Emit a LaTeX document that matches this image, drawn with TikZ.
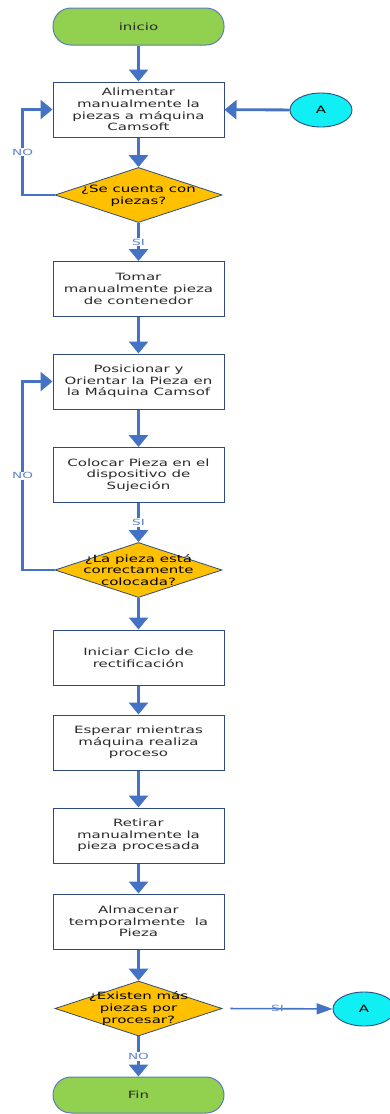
\documentclass[tikz,border=0pt]{standalone}
\usepackage{fontspec}
\usetikzlibrary{arrows.meta,shapes.geometric}
\newfontfamily\bfnt[FakeStretch=1.5]{DejaVu Sans}
\newfontfamily\lfnt[FakeStretch=1.6]{DejaVu Sans}
\definecolor{arrowblue}{HTML}{4472C4}
\definecolor{boxborder}{HTML}{2F4A7E}
\definecolor{termborder}{HTML}{5A7DB8}
\definecolor{termgreen}{HTML}{92D050}
\definecolor{decyellow}{HTML}{FFC000}
\definecolor{conncyan}{HTML}{10F0F4}
\definecolor{textgray}{HTML}{2B2B2B}
\definecolor{labblue}{HTML}{5F85CC}
\begin{document}
\begin{tikzpicture}[x=1pt,y=-1pt,
  txt/.style={font=\bfnt\fontsize{10}{11.7}\selectfont},
  proc/.style={txt, draw=boxborder, line width=1pt, fill=white, minimum width=171pt, minimum height=55pt, inner sep=0pt, align=center, text=textgray},
  term/.style={proc, rounded corners=18pt, fill=termgreen, draw=termborder, minimum height=37pt},
  dec/.style={diamond, draw=boxborder, fill=decyellow, minimum width=167pt, minimum height=55pt, inner sep=0pt, line width=0.8pt},
  dectext/.style={txt, align=center, text=black, inner sep=0pt},
  conn/.style={ellipse, txt, draw=boxborder, fill=conncyan, minimum width=62pt, minimum height=34pt, line width=0.9pt, inner sep=0pt},
  flow/.style={draw=arrowblue, line width=2.8pt, -{Triangle[width=19pt,length=12pt]}},
  thinflow/.style={draw=arrowblue, line width=1.6pt, -{Triangle[width=11pt,length=16pt]}},
  lab/.style={fill=white, text=labblue, font=\lfnt\fontsize{8.5}{10}\selectfont, inner sep=1pt}]
\useasboundingbox (0,0) rectangle (389,1114);

\node[term] (ini) at (138.5,26.5) {inicio};
\node[proc] (b1) at (138.5,109.5) {Alimentar\\manualmente la\\piezas a máquina\\Camsoft};
\node[dec] (d1) at (138.5,195) {};
\node[dectext] (d1t) at (138.5,196) {¿Se cuenta con\\piezas?};
\node[proc] (b2) at (138.5,289) {Tomar\\manualmente pieza\\de contenedor};
\node[proc] (b3) at (138.5,381.5) {Posicionar y\\Orientar la Pieza en\\la Máquina Camsof};
\node[proc] (b4) at (138.5,475) {Colocar Pieza en el\\dispositivo de\\Sujeción};
\node[dec] (d2) at (138.5,570) {};
\node[dectext] (d2t) at (138.5,570) {¿La pieza está\\correctamente\\colocada?};
\node[proc] (b5) at (138.5,657.5) {Iniciar Ciclo de\\rectificación};
\node[proc] (b6) at (138.5,742.5) {Esperar mientras\\máquina realiza\\proceso};
\node[proc] (b7) at (138.5,835.5) {Retirar\\manualmente la\\pieza procesada};
\node[proc] (b8) at (138.5,921.5) {Almacenar\\temporalmente\ \ la\\Pieza};
\node[dec] (d3) at (138.5,1008.5) {};
\node[dectext] (d3t) at (138.5,1008.5) {¿Existen más\\piezas por\\procesar?};
\node[term, minimum height=36pt] (fin) at (138.5,1095) {Fin};
\node[conn] (a1) at (321,110) {A};
\node[conn] (a2) at (364,1009) {A};

\draw[flow] (ini) -- (b1);
\draw[flow] (b1) -- (d1);
\draw[flow] (d1) -- node[lab]{SI} (b2);
\draw[flow] (d1.west) -- ++(-32,0) |- node[lab,pos=0.25]{NO} (b1.west);
\draw[flow] (a1) -- (b1);
\draw[flow] (b2) -- (b3);
\draw[flow] (b3) -- (b4);
\draw[flow] (b4) -- node[lab]{SI} (d2);
\draw[flow] (d2.west) -- ++(-32,0) |- node[lab,pos=0.25]{NO} (b3.west);
\draw[flow] (d2) -- (b5);
\draw[flow] (b5) -- (b6);
\draw[flow] (b6) -- (b7);
\draw[flow] (b7) -- (b8);
\draw[flow] (b8) -- (d3);
\draw[thinflow, shorten <=8pt] (d3.east) -- node[lab, fill=none]{SI} (a2);
\draw[flow] (d3) -- node[lab]{NO} (fin);
\end{tikzpicture}
\end{document}
